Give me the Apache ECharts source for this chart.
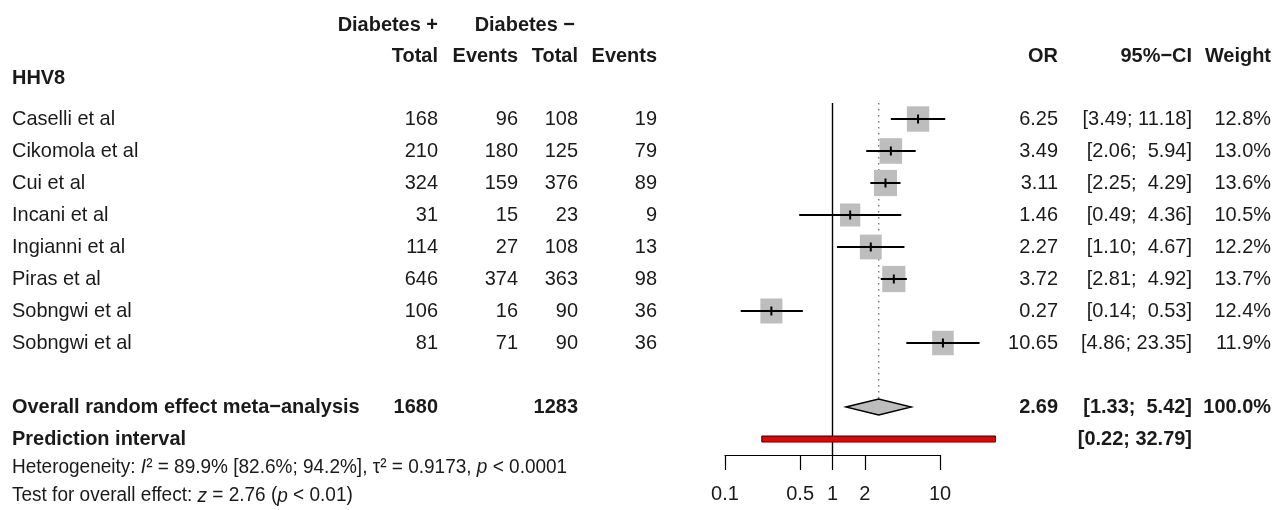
<!DOCTYPE html>
<html><head><meta charset="utf-8">
<script src="https://cdn.jsdelivr.net/npm/echarts@6/dist/echarts.min.js"></script>
<style>html,body{margin:0;padding:0;background:#fff}#c{width:1276px;height:510px}</style>
</head><body><div id="c"></div>
<script>
// ---------------- data ----------------
const subgroup = 'HHV8';
const studies   = ['Caselli et al','Cikomola et al','Cui et al','Incani et al','Ingianni et al','Piras et al','Sobngwi et al','Sobngwi et al'];
const totalPos  = [168, 210, 324, 31, 114, 646, 106, 81];
const eventsPos = [96, 180, 159, 15, 27, 374, 16, 71];
const totalNeg  = [108, 125, 376, 23, 108, 363, 90, 90];
const eventsNeg = [19, 79, 89, 9, 13, 98, 36, 36];
const orVal     = [6.25, 3.49, 3.11, 1.46, 2.27, 3.72, 0.27, 10.65];
const ciLow     = [3.49, 2.06, 2.25, 0.49, 1.10, 2.81, 0.14, 4.86];
const ciHigh    = [11.18, 5.94, 4.29, 4.36, 4.67, 4.92, 0.53, 23.35];
const weights   = [12.8, 13.0, 13.6, 10.5, 12.2, 13.7, 12.4, 11.9];
const overallTotals = [1680, 1283];
const overallOR  = [2.69, 1.33, 5.42];   // estimate, low, high
const overallWeight = 100.0;
const predInterval = [0.22, 32.79];
const tickValues = [0.1, 0.5, 1, 2, 10];
const hetStats = {I2: '89.9%', I2ci: '[82.6%; 94.2%]', tau2: '0.9173', p: '< 0.0001'};
const testStats = {z: '2.76', p: '< 0.01'};

// ---------------- layout ----------------
const FONT = '"Liberation Sans", Arial, sans-serif';
const FS = 21, SX = 0.95;          // tall, slightly condensed text like the reference
const TXT = '#1a1a1a';
const col = {label: 12, totPos: 438, evPos: 518, totNeg: 578, evNeg: 657, or: 1058, ci: 1192, w: 1271};
const rowOf = i => 3 + i;
const overallRow = 12, predRow = 13;

const f2 = v => v.toFixed(2);
const ciText = (lo, hi) => '[' + f2(lo) + ';' + (hi < 10 ? '  ' : ' ') + f2(hi) + ']';

const texts = [];
function T(x, row, text, align, bold, extra) {
  texts.push(Object.assign({x, row, text, align: align || 'right', bold: !!bold}, extra || {}));
}
const hdr1 = 0.06, hdr2 = 1.03, subRow = 1.72;
T(col.totPos, hdr1, 'Diabetes +', 'right', true);
T(col.totNeg - 3, hdr1, 'Diabetes \u2212', 'right', true);
T(col.totPos, hdr2, 'Total', 'right', true);
T(col.evPos, hdr2, 'Events', 'right', true);
T(col.totNeg, hdr2, 'Total', 'right', true);
T(col.evNeg, hdr2, 'Events', 'right', true);
T(col.or, hdr2, 'OR', 'right', true);
T(col.ci, hdr2, '95%\u2212CI', 'right', true);
T(col.w, hdr2, 'Weight', 'right', true);
T(col.label, subRow, subgroup, 'left', true);
studies.forEach((s, i) => {
  const r = rowOf(i);
  T(col.label, r, s, 'left');
  T(col.totPos, r, String(totalPos[i]));
  T(col.evPos, r, String(eventsPos[i]));
  T(col.totNeg, r, String(totalNeg[i]));
  T(col.evNeg, r, String(eventsNeg[i]));
  T(col.or, r, f2(orVal[i]));
  T(col.ci, r, ciText(ciLow[i], ciHigh[i]));
  T(col.w, r, weights[i].toFixed(1) + '%');
});
T(col.label, overallRow, 'Overall random effect meta\u2212analysis', 'left', true);
T(col.totPos, overallRow, String(overallTotals[0]), 'right', true);
T(col.totNeg, overallRow, String(overallTotals[1]), 'right', true);
T(col.or, overallRow, f2(overallOR[0]), 'right', true);
T(col.ci, overallRow, ciText(overallOR[1], overallOR[2]), 'right', true);
T(col.w, overallRow, overallWeight.toFixed(1) + '%', 'right', true);
T(col.label, predRow, 'Prediction interval', 'left', true);
T(col.ci, predRow, ciText(predInterval[0], predInterval[1]), 'right', true);
T(col.label, 13.875, '{n|Heterogeneity: }{i|I}{n|\u00b2 = ' + hetStats.I2 + ' ' + hetStats.I2ci + ', \u03c4\u00b2 = ' + hetStats.tau2 + ', }{i|p}{n| ' + hetStats.p + '}', 'left', false, {rich: true});
T(col.label, 14.78, '{n|Test for overall effect: }{i|z}{n| = ' + testStats.z + ' (}{i|p}{n| ' + testStats.p + ')}', 'left', false, {rich: true});

const HFS = 20;
const richStyles = {
  n: {fontSize: HFS, fontFamily: FONT, fill: TXT},
  i: {fontSize: HFS, fontFamily: FONT, fill: TXT, fontStyle: 'italic'}
};

const chart = echarts.init(document.getElementById('c'), null, {renderer: 'canvas'});

const studyData = studies.map((s, i) => [orVal[i], ciLow[i], ciHigh[i], weights[i], rowOf(i)]);

const option = {
  animation: false,
  grid: [
    {left: 725, width: 215, top: 103, height: 352},
    {left: 0, right: 0, top: 0, bottom: 0}
  ],
  xAxis: [
    {
      type: 'log', logBase: 10, gridIndex: 0, min: 0.1, max: 10,
      axisLine: {show: true, onZero: false, lineStyle: {color: '#000', width: 1.2}},
      axisTick: {show: true, length: 15, customValues: tickValues, lineStyle: {color: '#000', width: 1.2}},
      axisLabel: {show: true, customValues: tickValues, formatter: v => String(+(+v).toPrecision(3)),
                  fontSize: 20, fontFamily: FONT, color: TXT, margin: 29},
      splitLine: {show: false}, minorTick: {show: false}
    },
    {type: 'value', gridIndex: 1, min: 0, max: 1276, show: false}
  ],
  yAxis: [
    {type: 'value', gridIndex: 0, min: 2.5, max: 13.5, inverse: true, show: false},
    {type: 'value', gridIndex: 1, min: -0.71875, max: 15.21875, inverse: true, show: false}
  ],
  series: [
    { // reference lines: no effect (solid) and overall estimate (dotted)
      type: 'custom', xAxisIndex: 0, yAxisIndex: 0, clip: false, silent: true,
      data: [[1, 2.5, 13.5, 0], [overallOR[0], 2.5, overallRow - 0.25, 1]],
      encode: {x: 0, y: [1, 2]},
      renderItem(params, api) {
        const a = api.coord([api.value(0), api.value(1)]);
        const b = api.coord([api.value(0), api.value(2)]);
        const dotted = api.value(3) === 1;
        return {type: 'line', shape: {x1: a[0], y1: a[1], x2: b[0], y2: b[1]},
          style: dotted ? {stroke: '#777', lineWidth: 1.4, lineDash: [1.5, 4.5]} : {stroke: '#000', lineWidth: 1.4}};
      }
    },
    { // studies
      type: 'custom', xAxisIndex: 0, yAxisIndex: 0, clip: false, silent: true,
      data: studyData,
      encode: {x: [0, 1, 2], y: 4},
      renderItem(params, api) {
        const c = api.coord([api.value(0), api.value(4)]);
        const l = api.coord([api.value(1), api.value(4)]);
        const h = api.coord([api.value(2), api.value(4)]);
        const sw = Math.sqrt(api.value(3));
        const bw = 6.25 * sw, bh = 7.1 * sw;
        return {type: 'group', children: [
          {type: 'rect', shape: {x: c[0] - bw / 2, y: c[1] - bh / 2, width: bw, height: bh}, style: {fill: '#bdbdbd'}},
          {type: 'line', shape: {x1: l[0], y1: c[1], x2: h[0], y2: c[1]}, style: {stroke: '#000', lineWidth: 2}},
          {type: 'line', shape: {x1: c[0], y1: c[1] - 4.5, x2: c[0], y2: c[1] + 4.5}, style: {stroke: '#000', lineWidth: 2}}
        ]};
      }
    },
    { // overall diamond
      type: 'custom', xAxisIndex: 0, yAxisIndex: 0, clip: false, silent: true,
      data: [[overallOR[1], overallOR[0], overallOR[2], overallRow]],
      encode: {x: [0, 1, 2], y: 3},
      renderItem(params, api) {
        const r = api.value(3);
        const p1 = api.coord([api.value(0), r]);
        const p2 = api.coord([api.value(1), r - 0.25]);
        const p3 = api.coord([api.value(2), r]);
        const p4 = api.coord([api.value(1), r + 0.25]);
        return {type: 'polygon', shape: {points: [p1, p2, p3, p4]}, style: {fill: '#bdbdbd', stroke: '#000', lineWidth: 1.3}};
      }
    },
    { // prediction interval
      type: 'custom', xAxisIndex: 0, yAxisIndex: 0, clip: false, silent: true,
      data: [[predInterval[0], predInterval[1], predRow]],
      encode: {x: [0, 1], y: 2},
      renderItem(params, api) {
        const a = api.coord([api.value(0), api.value(2)]);
        const b = api.coord([api.value(1), api.value(2)]);
        return {type: 'rect', shape: {x: a[0], y: a[1] - 3, width: b[0] - a[0], height: 6},
          style: {fill: '#ee0000', stroke: '#300', lineWidth: 1}};
      }
    },
    { // table text
      type: 'custom', xAxisIndex: 1, yAxisIndex: 1, clip: false, silent: true,
      data: texts.map(t => [t.x, t.row]),
      renderItem(params, api) {
        const t = texts[params.dataIndex];
        const p = api.coord([api.value(0), api.value(1)]);
        const style = {text: t.text, x: 0, y: 0, align: t.align, verticalAlign: 'middle', fill: TXT,
          fontSize: FS, fontFamily: FONT, fontWeight: t.bold ? 'bold' : 'normal'};
        if (t.rich) { style.rich = richStyles; style.fontSize = HFS; }
        return {type: 'text', x: p[0], y: p[1], scaleX: SX, scaleY: 1, style};
      }
    }
  ]
};
chart.setOption(option);
</script>
</body></html>
